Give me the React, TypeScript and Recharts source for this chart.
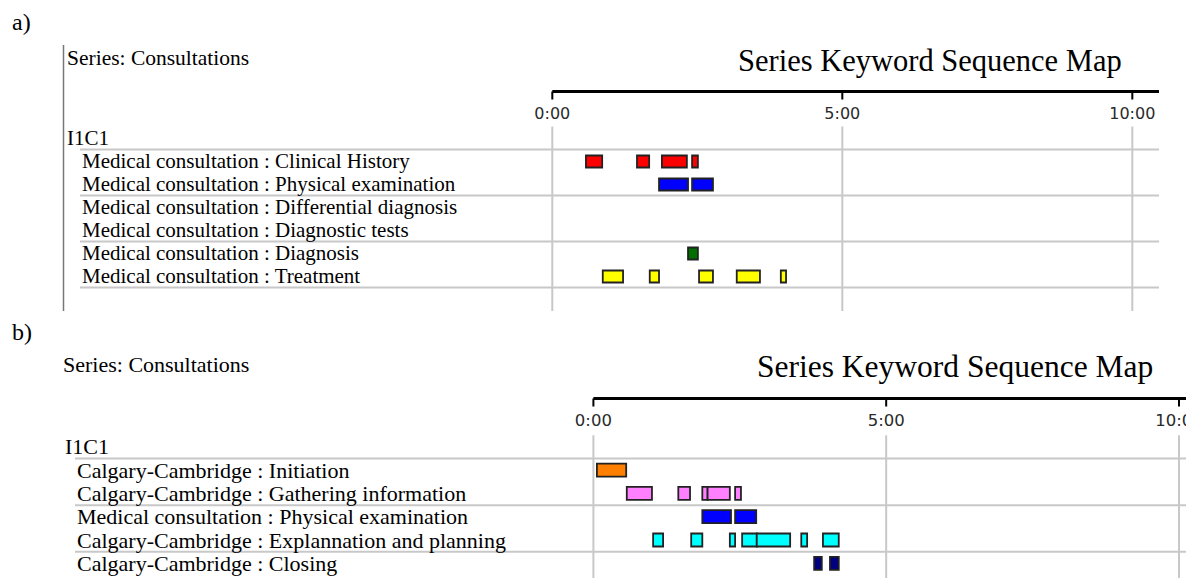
import { BarChart, Bar, Cell, XAxis, YAxis, CartesianGrid } from "recharts";

const W = 1186;
const H = 578;

const serif = "'Liberation Serif', 'Times New Roman', serif";
const sans = "'DejaVu Sans', Tahoma, sans-serif";

// minutes shown on the time ruler
const timeTicks = [0, 5, 10];

type Seg = [number, number];

// a) medical consultation codes (segment start/end in minutes)
const codesA = [
  "I1C1",
  "Medical consultation : Clinical History",
  "Medical consultation : Physical examination",
  "Medical consultation : Differential diagnosis",
  "Medical consultation : Diagnostic tests",
  "Medical consultation : Diagnosis",
  "Medical consultation : Treatment",
];
const colorsA = ["none", "#ff0000", "#0000ff", "#ff0000", "#ff0000", "#006f00", "#ffff00"];
const clinicalHistoryA: Seg[] = [[0.58, 0.86], [1.46, 1.67], [1.89, 2.32], [2.41, 2.51]];
const physicalExamA: Seg[] = [[1.84, 2.34], [2.41, 2.77]];
const differentialA: Seg[] = [];
const diagnosticTestsA: Seg[] = [];
const diagnosisA: Seg[] = [[2.34, 2.51]];
const treatmentA: Seg[] = [[0.87, 1.22], [1.68, 1.84], [2.53, 2.77], [3.18, 3.58], [3.94, 4.03]];
const segsA: Seg[][] = [[], clinicalHistoryA, physicalExamA, differentialA, diagnosticTestsA, diagnosisA, treatmentA];

// b) Calgary-Cambridge codes
const codesB = [
  "I1C1",
  "Calgary-Cambridge : Initiation",
  "Calgary-Cambridge : Gathering information",
  "Medical consultation : Physical examination",
  "Calgary-Cambridge : Explannation and planning",
  "Calgary-Cambridge : Closing",
];
const colorsB = ["none", "#ff8000", "#ff80ff", "#0000ff", "#00ffff", "#000080"];
const initiationB: Seg[] = [[0.06, 0.56]];
const gatheringB: Seg[] = [[0.57, 1.0], [1.45, 1.65], [1.86, 1.95], [1.95, 2.33], [2.42, 2.52]];
const physicalExamB: Seg[] = [[1.86, 2.35], [2.42, 2.78]];
const explanationB: Seg[] = [[1.02, 1.19], [1.67, 1.86], [2.33, 2.42], [2.54, 2.79], [2.79, 3.36], [3.55, 3.65], [3.92, 4.19]];
const closingB: Seg[] = [[3.77, 3.9], [4.04, 4.19]];
const segsB: Seg[][] = [[], initiationB, gatheringB, physicalExamB, explanationB, closingB];

type Cfg = {
  top: number;
  height: number;
  axisY: number;
  bandTop: number;
  rowH: number;
  plotLeft: number;
  plotRight: number;
  maxMin: number;
  headerX: number;
  labelX: number;
  lineX: number;
  fontSize: number;
  tickFont: number;
  barSize: number;
};

const cfgA: Cfg = {
  top: 0, height: 311, axisY: 91.5, bandTop: 126.5, rowH: 23,
  plotLeft: 552.3, plotRight: 1159, maxMin: 10.46,
  headerX: 67, labelX: 82, lineX: 80, fontSize: 21, tickFont: 16, barSize: 12,
};
const cfgB: Cfg = {
  top: 320, height: 258, axisY: 78.5, bandTop: 115.3, rowH: 23.3,
  plotLeft: 593.4, plotRight: W, maxMin: 10.12,
  headerX: 65, labelX: 77, lineX: 75, fontSize: 22, tickFont: 16.5, barSize: 13,
};

function buildRows(codes: string[], segs: Seg[][], colors: string[]) {
  return codes.map((code, i) => {
    const row: Record<string, any> = { code, color: colors[i] };
    segs[i].forEach((s, j) => {
      row["s" + j] = s;
    });
    return row;
  });
}

// code label; header row and every second row get a rule under them
function CodeTick(props: any) {
  const { y, payload, index, cfg } = props;
  const ruleY = y + cfg.rowH / 2;
  return (
    <g>
      {index % 2 === 0 && (
        <line x1={cfg.lineX} x2={cfg.plotRight} y1={ruleY} y2={ruleY} stroke="#c8c8c8" strokeWidth={2} />
      )}
      <text
        x={index === 0 ? cfg.headerX : cfg.labelX}
        y={y}
        dy="0.34em"
        fontFamily={serif}
        fontSize={cfg.fontSize}
        fill="#000"
      >
        {payload.value}
      </text>
    </g>
  );
}

function SequenceMap({ codes, segs, colors, cfg }: { codes: string[]; segs: Seg[][]; colors: string[]; cfg: Cfg }) {
  const data = buildRows(codes, segs, colors);
  const n = codes.length;
  const segCount = Math.max(...segs.map((s) => s.length));
  const pad = { top: cfg.bandTop - cfg.axisY, bottom: cfg.height - (cfg.bandTop + n * cfg.rowH) };

  return (
    <div style={{ position: "absolute", left: 0, top: cfg.top }}>
      <BarChart
        width={W}
        height={cfg.height}
        data={data}
        layout="vertical"
        margin={{ top: cfg.axisY, right: W - cfg.plotRight, bottom: 0, left: 0 }}
        barGap={-cfg.barSize}
      >
        <CartesianGrid
          horizontal={false}
          syncWithTicks
          y={cfg.bandTop}
          height={cfg.height - cfg.bandTop}
          stroke="#c8c8c8"
          strokeWidth={2}
        />
        <XAxis
          type="number"
          orientation="top"
          mirror
          height={1}
          domain={[0, cfg.maxMin]}
          allowDataOverflow
          ticks={timeTicks}
          interval={0}
          tickFormatter={(m: number) => `${m}:00`}
          axisLine={{ stroke: "#000", strokeWidth: 3 }}
          tickLine={{ stroke: "#000", strokeWidth: 2 }}
          tickSize={8}
          tickMargin={8}
          tick={{ fill: "#2a2a2a", fontSize: cfg.tickFont, fontFamily: sans }}
        />
        <YAxis
          type="category"
          dataKey="code"
          width={cfg.plotLeft}
          axisLine={false}
          tickLine={false}
          interval={0}
          padding={pad}
          tick={(p: any) => <CodeTick {...p} cfg={cfg} />}
        />
        {Array.from({ length: segCount }, (_, j) => (
          <Bar
            key={j}
            dataKey={"s" + j}
            barSize={cfg.barSize}
            stroke="#222"
            strokeWidth={1.8}
            isAnimationActive={false}
          >
            {data.map((r, i) => (
              <Cell key={i} fill={r.color} />
            ))}
          </Bar>
        ))}
      </BarChart>
    </div>
  );
}

export default function App() {
  return (
    <div style={{ position: "absolute", left: 0, top: 0, width: W, height: H, background: "#fff", overflow: "hidden" }}>
      <svg width={W} height={H} style={{ position: "absolute", left: 0, top: 0 }} fontFamily={serif} fill="#000">
        <text x={12} y={30} fontSize={24}>a)</text>
        <line x1={63.5} y1={45} x2={63.5} y2={311} stroke="#777" strokeWidth={1.5} />
        <text x={67} y={65} fontSize={21.5}>Series: Consultations</text>
        <text x={738} y={71} fontSize={30.5}>Series Keyword Sequence Map</text>
        <text x={12} y={340} fontSize={24}>b)</text>
        <text x={63} y={372} fontSize={22}>Series: Consultations</text>
        <text x={757} y={377} fontSize={31.5}>Series Keyword Sequence Map</text>
      </svg>
      <SequenceMap codes={codesA} segs={segsA} colors={colorsA} cfg={cfgA} />
      <SequenceMap codes={codesB} segs={segsB} colors={colorsB} cfg={cfgB} />
    </div>
  );
}
